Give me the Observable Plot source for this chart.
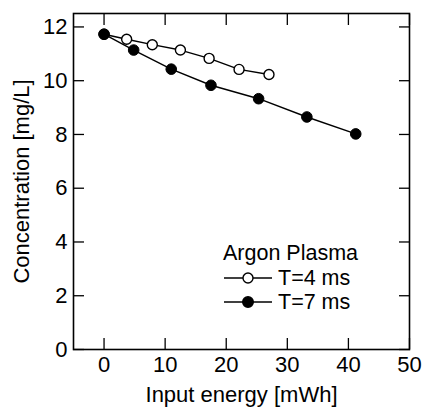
<!DOCTYPE html>
<html>
<head>
<meta charset="utf-8">
<script src="https://cdn.jsdelivr.net/npm/d3@7"></script>
<script src="https://cdn.jsdelivr.net/npm/@observablehq/plot@0.6"></script>
<style>
  html, body { margin: 0; padding: 0; background: #fff; }
  #wrap { position: relative; width: 424px; height: 408px; font-family: "Liberation Sans", Arial, sans-serif; }
  #legend { position: absolute; left: 223px; top: 241px; font-size: 21.5px; color: #000; line-height: 24.5px; }
  #legend .title { height: 24.5px; }
  #legend .row { display: flex; align-items: center; height: 24.5px; }
  #legend svg { margin-right: 5px; flex: none; }
</style>
</head>
<body>
<div id="wrap"></div>
<script>
// T = 4 ms (open circles)
const energyT4 = [0, 3.7, 7.9, 12.5, 17.2, 22.1, 27.0];
const concT4   = [11.73, 11.54, 11.34, 11.14, 10.83, 10.42, 10.23];
// T = 7 ms (filled circles)
const energyT7 = [0, 4.85, 11.0, 17.5, 25.3, 33.2, 41.2];
const concT7   = [11.73, 11.14, 10.43, 9.83, 9.33, 8.65, 8.02];

const xTicks = [0, 10, 20, 30, 40, 50];
const yTicks = [0, 2, 4, 6, 8, 10, 12];
const legendTitle = "Argon Plasma";
const seriesNames = ["T=4 ms", "T=7 ms"];

const t4 = energyT4.map((x, i) => ({x, y: concT4[i]}));
const t7 = energyT7.map((x, i) => ({x, y: concT7[i]}));

const font = "Liberation Sans, Arial, sans-serif";
const tick = 11;

const chart = Plot.plot({
  width: 424,
  height: 408,
  marginLeft: 73,
  marginRight: 15,
  marginTop: 13,
  marginBottom: 59,
  style: {fontFamily: font, fontSize: "22px", color: "#000", background: "#fff"},
  x: {domain: [-5, 50]},
  y: {domain: [0, 12.5]},
  marks: [
    // labels
    Plot.axisX({ticks: xTicks, tickSize: 0, tickPadding: 7, fontSize: 22, label: "Input energy [mWh]", labelAnchor: "center", labelArrow: "none", labelOffset: 52}),
    Plot.axisY({ticks: yTicks, tickSize: 0, tickPadding: 6, fontSize: 22, label: "Concentration [mg/L]", labelAnchor: "center", labelArrow: "none", labelOffset: 60}),
    // inward ticks on all four sides
    Plot.axisX({anchor: "bottom", ticks: xTicks, tickSize: tick, dy: -tick, fill: "none", strokeWidth: 1.3}),
    Plot.axisX({anchor: "top", ticks: xTicks, tickSize: tick, dy: tick, fill: "none", strokeWidth: 1.3}),
    Plot.axisY({anchor: "left", ticks: yTicks, tickSize: tick, dx: tick, fill: "none", strokeWidth: 1.3}),
    Plot.axisY({anchor: "right", ticks: yTicks, tickSize: tick, dx: -tick, fill: "none", strokeWidth: 1.3}),
    Plot.frame({stroke: "#000", strokeWidth: 1.6}),
    Plot.line(t4, {x: "x", y: "y", stroke: "#000", strokeWidth: 1.4}),
    Plot.dot(t4, {x: "x", y: "y", r: 5, fill: "#fff", stroke: "#000", strokeWidth: 1.4}),
    Plot.line(t7, {x: "x", y: "y", stroke: "#000", strokeWidth: 1.4}),
    Plot.dot(t7, {x: "x", y: "y", r: 5.3, fill: "#000", stroke: "#000", strokeWidth: 1})
  ]
});

const wrap = document.getElementById("wrap");
wrap.appendChild(chart);

const legend = document.createElement("div");
legend.id = "legend";
const title = document.createElement("div");
title.className = "title";
title.textContent = legendTitle;
legend.appendChild(title);
seriesNames.forEach((name, i) => {
  const row = document.createElement("div");
  row.className = "row";
  const fill = i === 0 ? "#fff" : "#000";
  row.innerHTML = `<svg width="50" height="20"><line x1="1" x2="49" y1="10" y2="10" stroke="#000" stroke-width="1.4"/><circle cx="25" cy="10" r="${i === 0 ? 5 : 5.3}" fill="${fill}" stroke="#000" stroke-width="1.4"/></svg><span>${name}</span>`;
  legend.appendChild(row);
});
wrap.appendChild(legend);
</script>
</body>
</html>
